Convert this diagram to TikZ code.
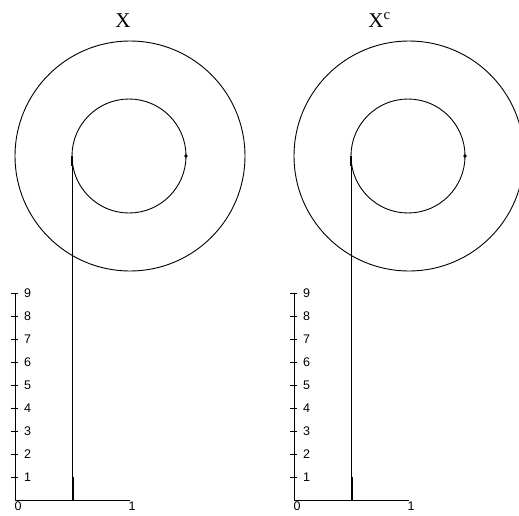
\documentclass[tikz,border=0pt]{standalone}
\usepackage{fontspec}
\setmainfont{Liberation Serif}
\newfontfamily\axfont{Liberation Sans}
\begin{document}
\begin{tikzpicture}[x=1pt,y=-1pt, line width=0.9pt,
  ring/.style={draw, circle, inner sep=0pt, outer sep=0pt, line width=0.9pt},
  axlbl/.style={font=\axfont\fontsize{12.5}{12.5}\selectfont, inner sep=0pt},
  ttl/.style={font=\fontsize{21}{21}\selectfont, inner sep=0pt, anchor=base west},
  unitbar/.style={line width=2pt},
  tickmark/.style={line width=0.9pt},
  spot/.style={fill=black}]
\useasboundingbox (0,0) rectangle (519,515);
\node[ttl] (tL) at (115,27) {X};
\node[ttl] (tR) at (368,27) {X\textsuperscript{c}};
\foreach \ox/\nm in {0/L, 279/R} {
  \begin{scope}[xshift=\ox pt]
    \node[ring, minimum size=230pt] (big\nm) at (130,156) {};
    \node[ring, minimum size=114pt] (inner\nm) at (129,156) {};
    \fill[spot] (inner\nm.east) circle (1.8pt);
    \coordinate (o\nm) at (15,500);
    \coordinate (xe\nm) at (130,500);
    \coordinate (ye\nm) at (15,293);
    \coordinate (foot\nm) at (72.5,500);
    \coordinate (unit\nm) at (72.5,477);
    \draw (ye\nm) -- (o\nm) -- (xe\nm);
    \foreach \i in {1,...,9} {
      \draw[tickmark] (11,500-23*\i) -- (18,500-23*\i);
      \node[axlbl] (lab\nm\i) at (27.5,500-23*\i) {\i};
    }
    \node[axlbl] (zero\nm) at (18,506) {0};
    \node[axlbl] (one\nm) at (132,506) {1};
    \draw (inner\nm.west) -- (inner\nm.west |- foot\nm);
    \draw[line width=1.4pt] (inner\nm.west) -- ++(0,10);
    \draw[unitbar] (unit\nm) -- (foot\nm);
  \end{scope}
}
\end{tikzpicture}
\end{document}
